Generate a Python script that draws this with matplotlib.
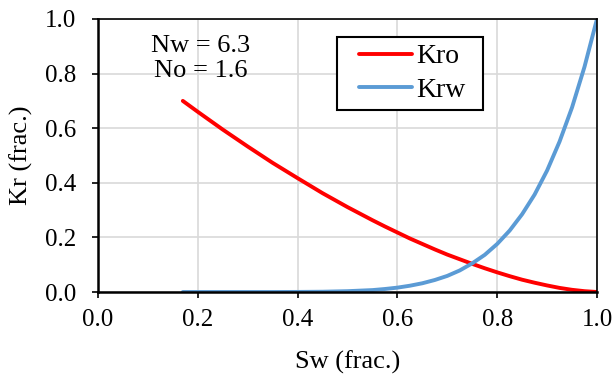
import matplotlib
matplotlib.use("Agg")
import matplotlib.pyplot as plt
from matplotlib import font_manager
from matplotlib.patches import Rectangle
from matplotlib.legend_handler import HandlerLine2D

# values
sw = [0.17, 0.20, 0.25, 0.30, 0.35, 0.40, 0.45, 0.50, 0.55, 0.575, 0.60, 0.625, 0.65, 0.675,
      0.70, 0.725, 0.75, 0.775, 0.80, 0.825, 0.85, 0.875, 0.90, 0.925, 0.95, 0.975, 1.00]
kro = [0.700, 0.660, 0.595, 0.533, 0.473, 0.417, 0.362, 0.311, 0.263, 0.240, 0.218, 0.196, 0.176, 0.156,
       0.137, 0.120, 0.103, 0.087, 0.072, 0.058, 0.045, 0.034, 0.024, 0.015, 0.008, 0.003, 0.000]
krw = [0.000, 0.000, 0.000, 0.000, 0.000, 0.0003, 0.001, 0.003, 0.007, 0.011, 0.016, 0.023, 0.032, 0.044,
       0.059, 0.079, 0.105, 0.136, 0.176, 0.225, 0.285, 0.357, 0.445, 0.551, 0.676, 0.825, 1.000]
xticks = [0.0, 0.2, 0.4, 0.6, 0.8, 1.0]
yticks = [0.0, 0.2, 0.4, 0.6, 0.8, 1.0]
note = "Nw = 6.3\nNo = 1.6"

# Times-like serif; load the file directly so there is no silent fallback
serif = [f.fname for f in font_manager.fontManager.ttflist
         if f.name == 'Liberation Serif' and f.style == 'normal' and f.weight in (400, 'normal', 'regular')]
if serif:
    def fp(size):
        return font_manager.FontProperties(fname=serif[0], size=size)
else:
    def fp(size):
        return font_manager.FontProperties(family=['TeX Gyre Termes', 'DejaVu Serif'], size=size)

fig = plt.figure(figsize=(6.14, 3.76), dpi=100)
ax = fig.add_axes([0.1596, 0.2234, 0.8127, 0.7261])

ax.plot(sw, kro, color='#FF0000', lw=2.8, label='Kro', solid_capstyle='round')
ax.plot(sw, krw, color='#5B9BD5', lw=2.8, label='Krw', solid_capstyle='round')

ax.set_xlim(0, 1)
ax.set_ylim(0, 1)
ax.set_xticks(xticks)
ax.set_yticks(yticks)
ax.set_xticklabels([f"{v:.1f}" for v in xticks], fontproperties=fp(18))
ax.set_yticklabels([f"{v:.1f}" for v in yticks], fontproperties=fp(18))
ax.tick_params(axis='both', direction='out', length=4.5, width=1.2, colors='black')
ax.tick_params(axis='x', pad=8)
ax.tick_params(axis='y', pad=11)
ax.grid(True, color='#d9d9d9', lw=1.2)
ax.set_axisbelow(True)
for side in ['left', 'bottom']:
    ax.spines[side].set_linewidth(1.8)
for side in ['top', 'right']:
    ax.spines[side].set_linewidth(1.2)

ax.set_xlabel("Sw (frac.)", fontproperties=fp(19), labelpad=14)
ax.set_ylabel("Kr (frac.)", fontproperties=fp(19), labelpad=9)

ax.text(0.206, 0.855, note, transform=ax.transAxes, ha='center', va='center',
        fontproperties=fp(19), linespacing=1.2)

# legend box drawn separately so its padding matches the reference
ax.add_patch(Rectangle((0.479, 0.667), 0.2926, 0.267, transform=ax.transAxes,
                       facecolor='white', edgecolor='black', lw=1.5, zorder=4.5))
leg = ax.legend(loc='upper left', bbox_to_anchor=(0.479, 0.934), prop=fp(20),
                frameon=False, handlelength=2.45, borderpad=0.25, labelspacing=0.3,
                handletextpad=0.15, borderaxespad=0,
                handler_map={plt.Line2D: HandlerLine2D(xpad=0.55)})
leg.set_zorder(5)

fig.savefig("out.png", dpi=100)
